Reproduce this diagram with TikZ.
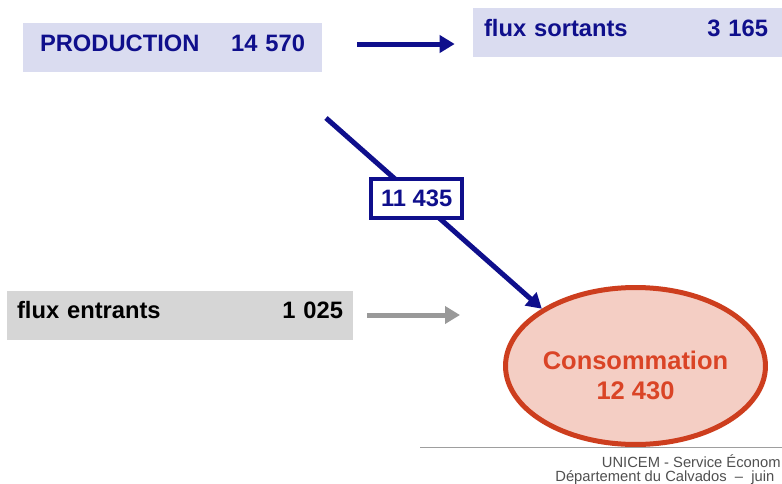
\documentclass[tikz,border=0pt]{standalone}
\usepackage{fontspec}
\setmainfont{Liberation Sans}
\usetikzlibrary{positioning, arrows.meta, shapes.geometric}
\definecolor{navy}{RGB}{15,15,140}
\definecolor{bluefill}{RGB}{218,220,240}
\definecolor{greyfill}{RGB}{214,214,214}
\definecolor{redline}{RGB}{205,62,30}
\definecolor{redtext}{RGB}{218,68,38}
\definecolor{pinkfill}{RGB}{244,206,196}
\definecolor{footgrey}{RGB}{80,80,80}
\tikzset{
  flowbox/.style  = {minimum height=0.98cm, text height=0.3cm, text depth=0.16cm, align=left, font=\fontsize{13.5}{16}\selectfont\bfseries},
  bluebox/.style  = {flowbox, fill=bluefill, text=navy},
  greybox/.style  = {flowbox, fill=greyfill, text=black},
  valbox/.style   = {draw=navy, line width=0.08cm, fill=white, text=navy, minimum width=1.82cm, minimum height=0.78cm, font=\fontsize{13.5}{16}\selectfont\bfseries},
  conso/.style    = {ellipse, draw=redline, line width=0.1cm, fill=pinkfill, inner sep=0pt, minimum width=5.2cm, minimum height=3.14cm},
  flow/.style     = {-{Triangle[length=0.3cm, width=0.34cm]}, line width=0.1cm, draw=navy},
  greyflow/.style = {-{Triangle[length=0.3cm, width=0.34cm]}, line width=0.1cm, draw=black!40},
  foot/.style     = {text=footgrey, inner sep=0pt, font=\fontsize{8.4}{10}\selectfont}
}
\begin{document}
\begin{tikzpicture}[x=0.02cm, y=-0.02cm]
  \clip (0,0) rectangle (782,484);
  \fill[white] (0,0) rectangle (782,484);

  % boxes
  \node[bluebox, inner xsep=0.34cm, text width=5.3cm] (prod) at (172.5,47.5) {PRODUCTION\hfill 14 570};
  \node[bluebox, inner xsep=0.22cm, text width=6.0cm] (sortants) at (634,32.5) {flux sortants\hfill 3 165\hspace*{0.32cm}};
  \node[greybox, inner xsep=0.2cm, text width=6.52cm] (entrants) at (180,315) {flux entrants\hfill 1 025};

  % consommation
  \node[conso] (conso) at (635.5,366) {};
  \node[text=redtext, align=center, font=\fontsize{14.5}{17}\selectfont\bfseries] (consotxt) at (635.5,375) {Consommation\\12 430};

  % flows
  \coordinate (src) at (326,118);
  \coordinate (inend) at (460,313);
  \draw[flow, shorten <=0.7cm, shorten >=0.36cm] ([yshift=0.07cm]prod.east) -- ([yshift=0.07cm]prod.east -| sortants.west);
  \draw[flow] (src) -- node[valbox, pos=0.42] (val) {11 435} (conso.north west);
  \draw[greyflow, shorten <=0.28cm] (entrants.east) -- (inend |- entrants.east);

  % footer
  \coordinate (rule0) at (420,447);
  \coordinate (rule1) at (782,447);
  \draw[black!38, line width=0.02cm] (rule0) -- (rule1);
  \node[foot, anchor=east] (unicem) at (781,461) {UNICEM - Service Économ};
  \node[foot, anchor=west] (dept) at (555,478) {Département du Calvados \ -- \ juin};
\end{tikzpicture}
\end{document}
